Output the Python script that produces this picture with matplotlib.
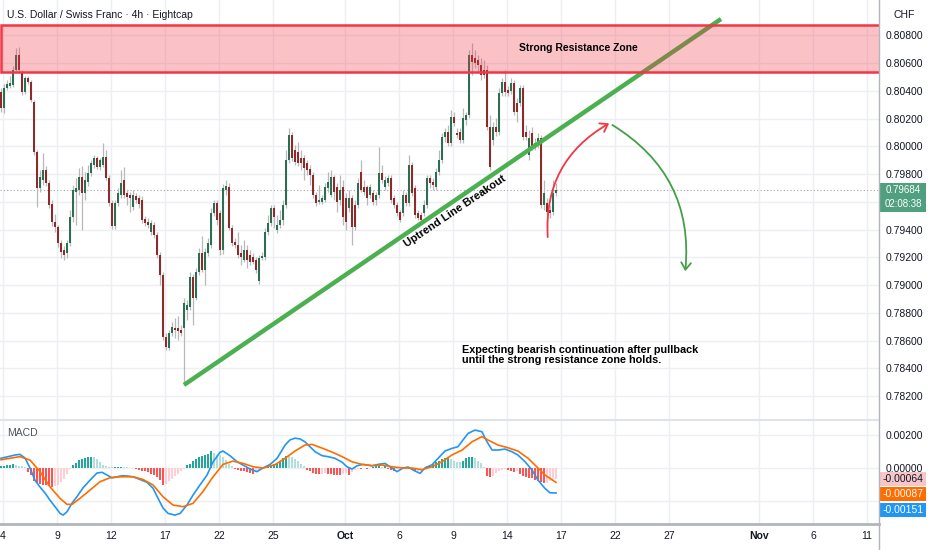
import matplotlib
matplotlib.use("Agg")
import matplotlib.pyplot as plt
import matplotlib.transforms as mtransforms
from matplotlib.patches import Rectangle, FancyArrowPatch
from matplotlib.lines import Line2D

plt.rcParams['font.family'] = ['Liberation Sans', 'DejaVu Sans']

# ---- USD/CHF 4h candles (one entry per bar) ----
opens = [0.80393, 0.80277, 0.80421, 0.80436, 0.80443, 0.80551, 0.80659, 0.80537, 0.80393, 0.80494,
         0.80465, 0.80321, 0.79960, 0.79700, 0.79758, 0.79830, 0.79737, 0.79585, 0.79455, 0.79419,
         0.79304, 0.79254, 0.79232, 0.79304, 0.79491, 0.79672, 0.79686, 0.79780, 0.79664, 0.79744,
         0.79809, 0.79866, 0.79917, 0.79852, 0.79866, 0.79924, 0.79773, 0.79592, 0.79427, 0.79592,
         0.79650, 0.79758, 0.79664, 0.79650, 0.79564, 0.79643, 0.79628, 0.79614, 0.79477, 0.79455,
         0.79383, 0.79434, 0.79362, 0.79217, 0.79073, 0.78626, 0.78547, 0.78655, 0.78691, 0.78691,
         0.78677, 0.78691, 0.78821, 0.78842, 0.79059, 0.78907, 0.79095, 0.79232, 0.79109, 0.79232,
         0.79290, 0.79520, 0.79592, 0.79520, 0.79254, 0.79686, 0.79708, 0.79412, 0.79311, 0.79290,
         0.79232, 0.79181, 0.79254, 0.79217, 0.79203, 0.79181, 0.79030, 0.79196, 0.79203, 0.79383,
         0.79448, 0.79556, 0.79398, 0.79434, 0.79470, 0.79578, 0.79902, 0.80083, 0.79975, 0.79960,
         0.79917, 0.79917, 0.79881, 0.79837, 0.79794, 0.79650, 0.79600, 0.79600, 0.79614, 0.79700,
         0.79650, 0.79780, 0.79708, 0.79614, 0.79708, 0.79628, 0.79556, 0.79628, 0.79578, 0.79578,
         0.79816, 0.79708, 0.79708, 0.79650, 0.79664, 0.79614, 0.79650, 0.79809, 0.79708, 0.79737,
         0.79773, 0.79628, 0.79578, 0.79527, 0.79520, 0.79650, 0.79592, 0.79866, 0.79700, 0.79520,
         0.79506, 0.79520, 0.79578, 0.79773, 0.79744, 0.79708, 0.79816, 0.79902, 0.80068, 0.80104,
         0.80025, 0.80212, 0.80097, 0.80104, 0.80047, 0.80191, 0.80227, 0.80659, 0.80638, 0.80623,
         0.80587, 0.80551, 0.80551, 0.80140, 0.80047, 0.80140, 0.80104, 0.80385, 0.80465, 0.80407,
         0.80400, 0.80458, 0.80313, 0.80313, 0.80421, 0.80104, 0.79938, 0.80097, 0.79989, 0.80011,
         0.80061, 0.79578, 0.79592, 0.79542, 0.79527, 0.79664]
highs = [0.80421, 0.80450, 0.80479, 0.80508, 0.80580, 0.80710, 0.80717, 0.80551, 0.80508, 0.80508,
         0.80479, 0.80335, 0.79975, 0.79830, 0.79953, 0.79859, 0.79758, 0.79614, 0.79513, 0.79434,
         0.79326, 0.79282, 0.79326, 0.79542, 0.79722, 0.79773, 0.79845, 0.79859, 0.79816, 0.79866,
         0.79902, 0.79938, 0.79931, 0.79917, 0.80025, 0.79975, 0.79794, 0.79614, 0.79614, 0.79700,
         0.79830, 0.79852, 0.79686, 0.79672, 0.79686, 0.79664, 0.79650, 0.79643, 0.79499, 0.79484,
         0.79470, 0.79455, 0.79383, 0.79239, 0.79095, 0.78655, 0.78677, 0.78734, 0.78763, 0.78778,
         0.78713, 0.78907, 0.78893, 0.79095, 0.79080, 0.79124, 0.79268, 0.79354, 0.79268, 0.79340,
         0.79556, 0.79614, 0.79614, 0.79542, 0.79729, 0.79758, 0.79737, 0.79434, 0.79340, 0.79383,
         0.79290, 0.79326, 0.79290, 0.79254, 0.79232, 0.79203, 0.79217, 0.79239, 0.79412, 0.79506,
         0.79578, 0.79578, 0.79506, 0.79542, 0.79614, 0.79975, 0.80133, 0.80104, 0.80011, 0.80032,
         0.79975, 0.79938, 0.79902, 0.79866, 0.79816, 0.79672, 0.79722, 0.79650, 0.79737, 0.79816,
         0.79830, 0.79794, 0.79737, 0.79794, 0.79758, 0.79664, 0.79686, 0.79650, 0.79614, 0.79773,
         0.79902, 0.79758, 0.79722, 0.79729, 0.79686, 0.79672, 0.79996, 0.79866, 0.79787, 0.79794,
         0.79794, 0.79650, 0.79600, 0.79542, 0.79686, 0.79672, 0.79938, 0.79888, 0.79722, 0.79542,
         0.79527, 0.79614, 0.79794, 0.79794, 0.79773, 0.79845, 0.79975, 0.80097, 0.80133, 0.80155,
         0.80263, 0.80249, 0.80133, 0.80133, 0.80277, 0.80249, 0.80696, 0.80746, 0.80696, 0.80659,
         0.80638, 0.80623, 0.80587, 0.80227, 0.80176, 0.80205, 0.80421, 0.80494, 0.80551, 0.80436,
         0.80494, 0.80479, 0.80349, 0.80443, 0.80443, 0.80155, 0.80119, 0.80140, 0.80061, 0.80097,
         0.80083, 0.79758, 0.79628, 0.79578, 0.79758, 0.79737]
lows = [0.80249, 0.80241, 0.80407, 0.80421, 0.80429, 0.80537, 0.80537, 0.80371, 0.80378, 0.80450,
        0.80321, 0.79938, 0.79564, 0.79672, 0.79722, 0.79715, 0.79556, 0.79427, 0.79383, 0.79275,
        0.79196, 0.79181, 0.79196, 0.79282, 0.79455, 0.79434, 0.79650, 0.79398, 0.79614, 0.79715,
        0.79787, 0.79845, 0.79837, 0.79830, 0.79852, 0.79758, 0.79571, 0.79405, 0.79405, 0.79571,
        0.79628, 0.79628, 0.79578, 0.79527, 0.79542, 0.79592, 0.79556, 0.79448, 0.79427, 0.79412,
        0.79362, 0.79340, 0.79196, 0.79001, 0.78605, 0.78533, 0.78533, 0.78633, 0.78619, 0.78605,
        0.78633, 0.78280, 0.78749, 0.78821, 0.78713, 0.78893, 0.79073, 0.79095, 0.79001, 0.79210,
        0.79268, 0.79499, 0.79434, 0.79217, 0.79225, 0.79650, 0.79398, 0.79282, 0.79268, 0.79196,
        0.79145, 0.79167, 0.79124, 0.79145, 0.79153, 0.79088, 0.79008, 0.79181, 0.79181, 0.79362,
        0.79427, 0.79412, 0.79376, 0.79412, 0.79434, 0.79556, 0.79881, 0.79895, 0.79866, 0.79859,
        0.79830, 0.79758, 0.79794, 0.79722, 0.79628, 0.79571, 0.79585, 0.79585, 0.79600, 0.79672,
        0.79636, 0.79614, 0.79527, 0.79578, 0.79434, 0.79398, 0.79527, 0.79290, 0.79398, 0.79556,
        0.79672, 0.79650, 0.79578, 0.79628, 0.79578, 0.79578, 0.79628, 0.79737, 0.79686, 0.79715,
        0.79592, 0.79556, 0.79499, 0.79455, 0.79499, 0.79571, 0.79571, 0.79643, 0.79484, 0.79470,
        0.79455, 0.79499, 0.79556, 0.79700, 0.79686, 0.79686, 0.79794, 0.79881, 0.80032, 0.80003,
        0.80003, 0.80148, 0.80061, 0.80025, 0.80025, 0.80155, 0.80205, 0.80515, 0.80566, 0.80537,
        0.80479, 0.80494, 0.80119, 0.79830, 0.80011, 0.80075, 0.80083, 0.80364, 0.80364, 0.80364,
        0.80378, 0.80227, 0.80176, 0.80292, 0.80047, 0.80047, 0.79902, 0.79975, 0.79975, 0.79989,
        0.79556, 0.79542, 0.79499, 0.79484, 0.79506, 0.79643]
closes = [0.80277, 0.80421, 0.80450, 0.80458, 0.80551, 0.80659, 0.80551, 0.80393, 0.80494, 0.80465,
          0.80335, 0.79960, 0.79700, 0.79780, 0.79830, 0.79737, 0.79578, 0.79455, 0.79419, 0.79304,
          0.79239, 0.79217, 0.79304, 0.79491, 0.79686, 0.79700, 0.79780, 0.79664, 0.79758, 0.79809,
          0.79881, 0.79917, 0.79852, 0.79902, 0.79924, 0.79773, 0.79592, 0.79427, 0.79592, 0.79664,
          0.79737, 0.79650, 0.79636, 0.79628, 0.79650, 0.79614, 0.79585, 0.79470, 0.79448, 0.79434,
          0.79448, 0.79362, 0.79217, 0.79073, 0.78626, 0.78554, 0.78655, 0.78698, 0.78677, 0.78669,
          0.78655, 0.78871, 0.78857, 0.79059, 0.78907, 0.79095, 0.79232, 0.79109, 0.79239, 0.79304,
          0.79520, 0.79592, 0.79470, 0.79254, 0.79700, 0.79715, 0.79412, 0.79304, 0.79290, 0.79217,
          0.79203, 0.79254, 0.79181, 0.79167, 0.79167, 0.79109, 0.79196, 0.79210, 0.79383, 0.79448,
          0.79556, 0.79491, 0.79434, 0.79470, 0.79578, 0.79902, 0.80083, 0.79917, 0.79888, 0.79881,
          0.79881, 0.79845, 0.79830, 0.79794, 0.79650, 0.79592, 0.79614, 0.79628, 0.79708, 0.79744,
          0.79780, 0.79672, 0.79600, 0.79686, 0.79491, 0.79455, 0.79628, 0.79419, 0.79419, 0.79737,
          0.79686, 0.79672, 0.79628, 0.79708, 0.79600, 0.79650, 0.79809, 0.79758, 0.79758, 0.79773,
          0.79614, 0.79578, 0.79520, 0.79470, 0.79650, 0.79592, 0.79866, 0.79664, 0.79506, 0.79484,
          0.79470, 0.79578, 0.79773, 0.79737, 0.79722, 0.79816, 0.79902, 0.80068, 0.80104, 0.80025,
          0.80212, 0.80169, 0.80083, 0.80047, 0.80205, 0.80227, 0.80659, 0.80609, 0.80602, 0.80587,
          0.80515, 0.80515, 0.80140, 0.79852, 0.80140, 0.80104, 0.80385, 0.80465, 0.80393, 0.80385,
          0.80458, 0.80249, 0.80249, 0.80421, 0.80068, 0.80068, 0.80061, 0.79996, 0.80025, 0.80061,
          0.79578, 0.79664, 0.79527, 0.79520, 0.79664, 0.79684]

# ---- MACD pane (values in 1e-5, positions in bars) ----
macd_bars = [0, 4.7, 6.3, 8, 9.7, 11.3, 13, 14.7, 16.3, 18, 19.7, 20.7, 22, 23.7, 25.3, 27.3, 29.7, 32,
             33.7, 35.3, 37, 38.7, 40.3, 42, 44, 46.3, 48.7, 50.7, 52.3, 54, 55.7, 58, 59.7, 62, 64, 66.3,
             68.7, 70.7, 73, 74, 76.3, 78.7, 80.7, 83, 85.3, 87.3, 89.7, 92, 94.7, 96.3, 98, 99.7, 101.3,
             103, 104.7, 107, 109, 111.3, 113.7, 115.3, 117, 118.7, 120.7, 123.7, 125.7, 128, 130.3, 132,
             134, 135.7, 138, 139.7, 141.3, 143.7, 145.7, 148, 150.3, 152.3, 154, 155.7, 158, 160.3, 162,
             163.7, 165.7, 168, 170.3, 172.3, 174.7, 177, 179, 181.3, 183, 185]
macd_vals = [59, 79, 83, 61, 0, -73, -115, -152, -194, -234, -275, -285, -265, -212, -174, -121, -73, -30,
             -26, -42, -59, -53, -47, -48, -53, -69, -87, -123, -182, -242, -275, -285, -275, -224, -164,
             -103, -42, 38, 95, 103, 75, 38, 18, -6, -22, 0, 22, 58, 139, 170, 181, 176, 159, 129, 99, 75,
             69, 59, 35, 8, -6, 14, 22, 14, 22, 28, 0, -22, 0, 6, -18, -32, 0, 20, 59, 103, 119, 129, 170,
             210, 230, 220, 159, 109, 109, 115, 99, 79, 38, -12, -73, -123, -150, -151]
signal_bars = [0, 6.3, 9.7, 13, 16.3, 19.7, 22, 23.7, 26.3, 29.7, 33, 36.3, 39.7, 44, 47.3, 50.7, 54, 57.3,
               60.7, 64, 67.3, 70.7, 74, 77.3, 80.7, 84, 87.3, 91.3, 94.7, 98, 101.3, 103.7, 107, 110.3,
               113.7, 117, 120.3, 123.7, 127, 130.3, 133.7, 137, 140.3, 143.7, 147, 150.3, 153.7, 157,
               160.3, 162.3, 165.7, 169, 172.3, 175.7, 179, 181.3, 185]
signal_vals = [50, 69, 48, -22, -113, -184, -220, -220, -184, -133, -83, -59, -53, -53, -69, -103, -174,
               -224, -234, -214, -143, -53, 22, 42, 28, 8, 0, 20, 59, 103, 139, 143, 121, 97, 69, 38, 22,
               14, 18, 8, 0, 0, -10, 8, 38, 79, 109, 159, 190, 170, 139, 123, 103, 59, 0, -42, -87]
hist = [14, 14, 16, 18, 22, 20, 14, 10, 6, -24,
        -44, -81, -89, -97, -101, -105, -111, -113, -109, -101,
        -85, -65, -34, -8, 16, 32, 46, 57, 63, 65,
        67, 65, 57, 36, 20, 12, 8, 4, 6, 8,
        8, 5, 4, 3, 2, -8, -12, -16, -20, -24,
        -34, -44, -55, -75, -101, -95, -81, -65, -48, -34,
        -20, -8, 16, 26, 40, 57, 67, 73, 81, 87,
        101, 93, 81, 77, 67, 46, 26, 12, -8, -14,
        -18, -20, -24, -28, -34, -24, -14, -4, 6, 12,
        20, 24, 26, 40, 61, 75, 71, 65, 55, 40,
        24, 10, -10, -20, -30, -36, -36, -34, -32, -34,
        -36, -40, -40, -40, -36, -32, -42, -24, -12, -4,
        -4, -2, -4, -2, 4, 10, 10, 8, 10, -4,
        -10, -16, -8, 4, 6, 4, -6, -12, -20, -18,
        -16, -6, 10, 16, 24, 34, 44, 57, 59, 61,
        52, 44, 36, 34, 40, 61, 67, 67, 61, 44,
        30, 6, -50, -57, -50, -32, -18, -12, -8, -12,
        -20, -24, -16, -36, -50, -57, -61, -63, -71, -79,
        -87, -90, -88, -78, -68, -64]

# ---- time axis (trading days after Sep 4, 6 bars per day) ----
tick_days = [0, 3, 6, 9, 12, 15, 19, 22, 25, 28, 31, 34, 37, 42, 45, 48]
tick_labels = ['4', '9', '12', '17', '22', '25', 'Oct', '6', '9', '14', '17', '22', '27', 'Nov', '6', '11']
bars_per_day = 6

price_ticks = [0.782, 0.784, 0.786, 0.788, 0.790, 0.792, 0.794, 0.796, 0.798, 0.800, 0.802, 0.804, 0.806, 0.808]

# ---- drawings ----
zone_low, zone_high = 0.80537, 0.80876
trend_bars = [61, 240]
trend_prices = [0.78280, 0.80919]
red_arrow = [(182.3, 0.79326), (203.5, 0.80176)]
green_arrow = [(203.0, 0.80165), (228.0, 0.79080)]
last_countdown = '02:08:38'

# ================= figure =================
W, H = 932, 550
fig = plt.figure(figsize=(W / 100, H / 100), dpi=100)
fig.patch.set_facecolor('white')
ax = fig.add_axes([0, 130 / H, 879 / W, 420 / H])
ax2 = fig.add_axes([0, 26 / H, 879 / W, 104 / H], sharex=ax)

grid_c = '#eceff4'
text_c = '#131722'
up_c, down_c, wick_c = '#2b6e52', '#8e2a2a', '#b8b8b8'
fs = 7.5

n = len(closes)
xs = list(range(n))
body_bottom = [min(o, c) for o, c in zip(opens, closes)]
body_h = [max(abs(c - o), 0.00002) for o, c in zip(opens, closes)]
colors = [up_c if c >= o else down_c for o, c in zip(opens, closes)]

ax.vlines(xs, lows, highs, color=wick_c, lw=0.9, zorder=2)
ax.bar(xs, body_h, bottom=body_bottom, width=0.7, color=colors, zorder=3)

ax.axhline(closes[-1], color='#a3a6af', lw=0.8, ls=(0, (1, 2)), zorder=1)

# trend line under the zone so the zone tints it
ax.plot(trend_bars, trend_prices, color='#4caf50', lw=3.2, solid_capstyle='butt', zorder=4)
ax.add_patch(Rectangle((0, zone_low), 400, zone_high - zone_low, facecolor=(0.949, 0.212, 0.271, 0.30),
                       edgecolor='#f23645', lw=1.8, zorder=5))
ax.text(192.5, 0.80712, 'Strong Resistance Zone', ha='center', va='center', fontsize=7.5,
        color='black', fontweight='bold', zorder=6)

ax.text(151.5, 0.79530, 'Uptrend Line Breakout', ha='center', va='center', rotation=34,
        rotation_mode='anchor', fontsize=8, fontweight='bold', color='black', zorder=6)

ax.add_patch(FancyArrowPatch(red_arrow[0], red_arrow[1], connectionstyle='arc3,rad=-0.32',
                             arrowstyle='->,head_length=5,head_width=3.5', color='#f23645', lw=1.3, zorder=6))
ax.add_patch(FancyArrowPatch(green_arrow[0], green_arrow[1], connectionstyle='arc3,rad=-0.32',
                             arrowstyle='->,head_length=5,head_width=3.5', color='#43a047', lw=1.3, zorder=6))

ax.text(153.7, 0.78497, 'Expecting bearish continuation after pullback\nuntil the strong resistance zone holds.',
        ha='left', va='center', fontsize=7.8, fontweight='bold', color='black', linespacing=1.05, zorder=6)

# axes limits, ticks and grid
tick_pos = [0.67 + bars_per_day * d for d in tick_days]
ax.set_xlim(-1 / 3, 878 / 3)
ax.set_ylim(0.78027, 0.81056)
ax.set_yticks(price_ticks)
ax.set_yticklabels(['%.5f' % p for p in price_ticks])
ax.set_xticks(tick_pos)
ax.tick_params(axis='x', labelbottom=False, length=0)
ax.yaxis.tick_right()
ax.tick_params(axis='y', length=0, pad=5, labelsize=fs, labelcolor=text_c)
ax.grid(True, color=grid_c, lw=1, zorder=0)
ax.set_axisbelow(True)
for s in ax.spines.values():
    s.set_visible(False)

# last price tag
blend = mtransforms.blended_transform_factory(ax.transAxes, ax.transData)
last = closes[-1]
ax.add_patch(Rectangle((1.001, last - 0.00158), 0.053, 0.00212, transform=blend, clip_on=False,
                       facecolor='#50a080', edgecolor='none', zorder=10))
ax.text(1.0275, last + 0.00003, '%.5f' % last, transform=blend, ha='center', va='center', color='white',
        fontsize=7, clip_on=False, zorder=11)
ax.text(1.0275, last - 0.00100, last_countdown, transform=blend, ha='center', va='center', color='white',
        fontsize=7, clip_on=False, zorder=11)

# ---- MACD pane ----
hist_v = [h * 1e-5 for h in hist]
hist_c = []
for i, h in enumerate(hist):
    prev = hist[i - 1] if i > 0 else h
    if h >= 0:
        hist_c.append('#26a69a' if h >= prev else '#b2dfdb')
    else:
        hist_c.append('#ff5252' if h <= prev else '#ffcdd2')
ax2.bar(xs, hist_v, width=0.6, color=hist_c, zorder=2)
ax2.plot(macd_bars, [v * 1e-5 for v in macd_vals], color='#2196f3', lw=1.2, zorder=3)
ax2.plot(signal_bars, [v * 1e-5 for v in signal_vals], color='#ff6d00', lw=1.2, zorder=3)

ax2.set_ylim(-0.00339, 0.00291)
ax2.set_yticks([-0.002, 0.0, 0.002])
ax2.set_yticklabels(['', '0.00000', '0.00200'])
ax2.yaxis.tick_right()
ax2.tick_params(axis='y', length=0, pad=5, labelsize=fs, labelcolor=text_c)
ax2.set_xticks(tick_pos)
ax2.set_xticklabels(tick_labels)
ax2.tick_params(axis='x', length=0, pad=5, labelsize=fs, labelcolor=text_c)
for lbl in ax2.get_xticklabels():
    if lbl.get_text() in ('Oct', 'Nov'):
        lbl.set_fontweight('bold')
ax2.grid(True, color=grid_c, lw=1, zorder=0)
ax2.set_axisbelow(True)
for k, s in ax2.spines.items():
    s.set_visible(k == 'bottom')
ax2.spines['bottom'].set_color('#b2b5be')
ax2.spines['bottom'].set_linewidth(2)

blend2 = mtransforms.blended_transform_factory(ax2.transAxes, ax2.transData)
tags = [(hist_v[-1], '#f7c6cb', text_c), (signal_vals[-1] * 1e-5, '#ff6d00', 'white'),
        (macd_vals[-1] * 1e-5, '#2196f3', 'white')]
tag_h = 0.00085
tag_y = hist_v[-1]
for val, bg, fg in tags:
    ax2.add_patch(Rectangle((1.001, tag_y - tag_h / 2), 0.053, tag_h, transform=blend2, clip_on=False,
                            facecolor=bg, edgecolor='none', zorder=10))
    ax2.text(1.0275, tag_y, '%.5f' % val, transform=blend2, ha='center', va='center', color=fg,
             fontsize=fs, clip_on=False, zorder=11)
    tag_y -= 0.00094

# separators and labels
fig.add_artist(Line2D([0, 879 / W], [1 - 420 / H, 1 - 420 / H], color='#e0e3eb', lw=1.5))
fig.add_artist(Line2D([879 / W, 879 / W], [0, 1], color='#b2b5be', lw=1))
fig.text(7 / W, 1 - 15 / H, 'U.S. Dollar / Swiss Franc · 4h · Eightcap', ha='left', va='center',
         fontsize=7.5, color=text_c)
fig.text(893 / W, 1 - 15 / H, 'CHF', ha='left', va='center', fontsize=fs, color=text_c)
fig.text(7 / W, 1 - 433 / H, 'MACD', ha='left', va='center', fontsize=fs, color='#50535e')

fig.savefig('out.png', dpi=100)
